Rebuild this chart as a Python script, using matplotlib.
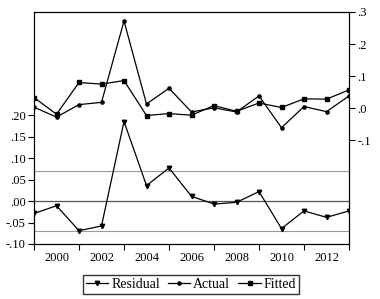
import matplotlib
matplotlib.use("Agg")
import matplotlib.pyplot as plt
from matplotlib.ticker import FuncFormatter, FixedLocator

years = list(range(1999, 2014))
residual = [-0.029, -0.011, -0.069, -0.058, 0.185, 0.036, 0.077, 0.011,
            -0.007, -0.003, 0.022, -0.064, -0.023, -0.038, -0.023]
actual = [0.003, -0.028, 0.011, 0.018, 0.272, 0.013, 0.062, -0.012,
          0.001, -0.012, 0.038, -0.061, 0.005, -0.011, 0.038]
fitted = [0.033, -0.019, 0.080, 0.075, 0.086, -0.023, -0.017, -0.022,
          0.008, -0.010, 0.016, 0.002, 0.029, 0.028, 0.057]
resid_sd = 0.069

left_ticks = [-0.10, -0.05, 0.00, 0.05, 0.10, 0.15, 0.20]
right_ticks = [-0.1, 0.0, 0.1, 0.2, 0.3]
label_years = [2000, 2002, 2004, 2006, 2008, 2010, 2012]
tick_years = [1999, 2001, 2003, 2005, 2007, 2009, 2011, 2013]

plt.rcParams['font.family'] = ['Liberation Serif', 'DejaVu Serif']
plt.rcParams['font.size'] = 9


def dot_fmt(digits):
    def f(v, pos):
        s = f"{v:.{digits}f}"
        if s.startswith("-0"):
            s = "-" + s[2:]
        elif s.startswith("0"):
            s = s[1:]
        return s
    return FuncFormatter(f)


fig = plt.figure(figsize=(3.8, 2.99), dpi=100)
ax = fig.add_axes([34 / 380, 55 / 299, 315 / 380, 232 / 299])
ax2 = ax.twinx()

# residual panel (left axis)
ax.axhline(resid_sd, color='#999999', lw=0.8, zorder=1)
ax.axhline(-resid_sd, color='#999999', lw=0.8, zorder=1)
ax.axhline(0, color='#555555', lw=0.9, zorder=1)
l1, = ax.plot(years, residual, color='black', lw=0.9, marker='v', ms=3.2,
              label='Residual')

# actual / fitted (right axis)
l2, = ax2.plot(years, actual, color='black', lw=0.9, marker='o', ms=2.3,
               label='Actual')
l3, = ax2.plot(years, fitted, color='black', lw=0.9, marker='s', ms=3.0,
               label='Fitted')

ax.set_xlim(1999, 2013)
ax.set_ylim(-0.10, 0.44)
ax2.set_ylim(-0.424, 0.30)

ax.set_yticks(left_ticks)
ax.yaxis.set_major_formatter(dot_fmt(2))
ax2.set_yticks(right_ticks)
ax2.yaxis.set_major_formatter(dot_fmt(1))

ax.xaxis.set_major_locator(FixedLocator(label_years))
ax.xaxis.set_minor_locator(FixedLocator(tick_years))
ax.tick_params(axis='x', which='major', length=0, pad=6)
ax.tick_params(axis='x', which='minor', length=4, width=0.8, direction='out')
ax.tick_params(axis='y', length=4, width=0.8, direction='out', pad=2)
ax2.tick_params(axis='y', length=4, width=0.8, direction='out', pad=2)

for a in (ax, ax2):
    for sp in a.spines.values():
        sp.set_linewidth(0.8)

fig.legend(handles=[l1, l2, l3], loc='center', bbox_to_anchor=(191 / 380, 0.049),
           ncol=3, frameon=True, fancybox=False, edgecolor='black',
           handlelength=1.6, handletextpad=0.2, columnspacing=0.6,
           borderpad=0.2, borderaxespad=0, fontsize=10)

fig.savefig("out.png", dpi=100)
